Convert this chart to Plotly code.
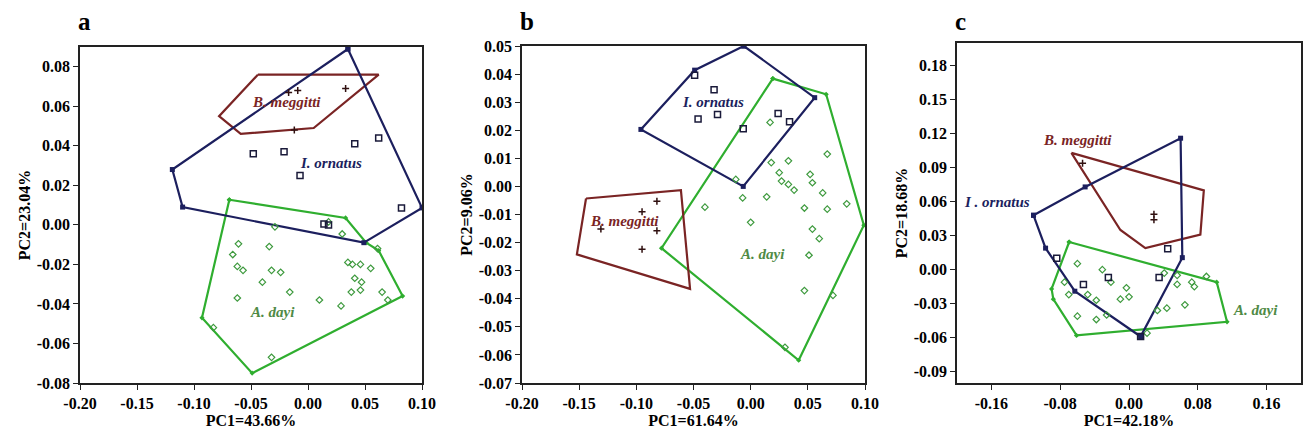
import plotly.graph_objects as go

# ---------------- data ----------------
# Panel a
a_orn_hull_x = [0.035, 0.100, 0.049, -0.110, -0.119, 0.035]
a_orn_hull_y = [0.089, 0.0086, -0.009, 0.009, 0.028, 0.089]
a_orn_x = [-0.048, -0.021, -0.007, 0.041, 0.062, 0.082, 0.014, 0.018]
a_orn_y = [0.036, 0.037, 0.025, 0.041, 0.044, 0.0086, 0.0005, 0.0]
a_meg_hull_x = [-0.044, 0.062, 0.005, -0.059, -0.078, -0.044]
a_meg_hull_y = [0.076, 0.076, 0.049, 0.046, 0.055, 0.076]
a_meg_x = [-0.009, 0.033, -0.017, -0.012]
a_meg_y = [0.068, 0.069, 0.067, 0.048]
a_day_hull_x = [-0.069, 0.033, 0.051, 0.062, 0.083, -0.049, -0.093, -0.069]
a_day_hull_y = [0.0127, 0.0035, -0.009, -0.013, -0.036, -0.075, -0.047, 0.0127]
a_day_x = [-0.061, -0.066, -0.062, -0.057, -0.034, -0.032, -0.024, -0.040, -0.016, -0.062,
           0.010, 0.029, 0.035, 0.039, 0.046, 0.055, 0.041, 0.047, 0.046, 0.038, 0.065, 0.070,
           0.030, -0.029, -0.083, -0.032, 0.061, 0.018]
a_day_y = [-0.0096, -0.015, -0.021, -0.023, -0.011, -0.023, -0.024, -0.029, -0.034, -0.037,
           -0.038, -0.041, -0.019, -0.020, -0.020, -0.022, -0.027, -0.029, -0.033, -0.034, -0.034, -0.038,
           -0.0046, -0.001, -0.052, -0.067, -0.012, 0.0015]

# Panel b
b_orn_hull_x = [-0.006, 0.056, -0.0065, -0.096, -0.049, -0.006]
b_orn_hull_y = [0.050, 0.0316, 0.0, 0.0203, 0.0414, 0.050]
b_orn_x = [-0.049, -0.032, -0.046, -0.029, -0.0065, 0.024, 0.034]
b_orn_y = [0.0396, 0.0344, 0.024, 0.0256, 0.0205, 0.026, 0.023]
b_meg_hull_x = [-0.144, -0.061, -0.053, -0.152, -0.144]
b_meg_hull_y = [-0.0043, -0.0013, -0.0365, -0.0242, -0.0043]
b_meg_x = [-0.082, -0.095, -0.082, -0.095, -0.131]
b_meg_y = [-0.0053, -0.009, -0.0158, -0.0224, -0.0152]
b_day_hull_x = [0.0194, 0.066, 0.099, 0.042, -0.078, 0.0194]
b_day_hull_y = [0.0384, 0.0328, -0.0138, -0.0619, -0.022, 0.0384]
b_day_x = [0.017, 0.018, 0.033, 0.025, 0.027, 0.033, 0.038, 0.052, 0.054, 0.063, 0.067, 0.084,
           0.067, 0.047, 0.014, -0.007, -0.013, -0.040, 0.0, 0.054, 0.060, 0.051, 0.047, 0.072, 0.030]
b_day_y = [0.0228, 0.0085, 0.0091, 0.0049, 0.0019, 0.0007, -0.0013, 0.0043, 0.0013, -0.0023, 0.0115, -0.0062,
           -0.0081, -0.0077, -0.0037, -0.0041, 0.0025, -0.0074, -0.0128, -0.0152, -0.0186, -0.0245, -0.0371, -0.0388, -0.0573]

# Panel c
c_orn_hull_x = [-0.111, -0.097, -0.063, 0.0135, 0.062, 0.060, -0.051, -0.111]
c_orn_hull_y = [0.048, 0.019, -0.019, -0.059, 0.0106, 0.116, 0.073, 0.048]
c_orn_x = [-0.084, -0.053, -0.024, 0.035, 0.045, 0.0135]
c_orn_y = [0.010, -0.013, -0.007, -0.007, 0.0185, -0.059]
c_meg_hull_x = [-0.067, 0.087, 0.083, 0.019, -0.010, -0.067]
c_meg_hull_y = [0.103, 0.070, 0.031, 0.019, 0.035, 0.103]
c_meg_x = [-0.054, 0.029, 0.029]
c_meg_y = [0.094, 0.049, 0.044]
c_day_hull_x = [-0.0696, 0.102, 0.114, -0.061, -0.088, -0.090, -0.0696]
c_day_hull_y = [0.0244, -0.011, -0.046, -0.058, -0.026, -0.017, 0.0244]
c_day_x = [-0.060, -0.075, -0.070, -0.048, -0.038, -0.060, -0.038, -0.026, -0.031, -0.021, -0.010, 0.0,
           -0.003, 0.041, 0.056, 0.056, 0.073, 0.076, 0.065, 0.044, 0.090, 0.033, 0.021]
c_day_y = [0.0053, -0.011, -0.022, -0.022, -0.027, -0.041, -0.044, -0.040, 0.0, -0.011, -0.026, -0.024,
           -0.016, -0.003, -0.005, -0.013, -0.011, -0.015, -0.031, -0.034, -0.006, -0.036, -0.056]

# Axis ticks
a_xticks = [-0.20, -0.15, -0.10, -0.05, 0.00, 0.05, 0.10]
a_yticks = [-0.08, -0.06, -0.04, -0.02, 0.00, 0.02, 0.04, 0.06, 0.08]
b_xticks = [-0.20, -0.15, -0.10, -0.05, 0.00, 0.05, 0.10]
b_yticks = [-0.07, -0.06, -0.05, -0.04, -0.03, -0.02, -0.01, 0.00, 0.01, 0.02, 0.03, 0.04, 0.05]
c_xticks = [-0.16, -0.08, 0.00, 0.08, 0.16]
c_yticks = [-0.09, -0.06, -0.03, 0.00, 0.03, 0.06, 0.09, 0.12, 0.15, 0.18]

pc1_titles = ["PC1=43.66%", "PC1=61.64%", "PC1=42.18%"]
pc2_titles = ["PC2=23.04%", "PC2=9.06%", "PC2=18.68%"]
panel_letters = ["a", "b", "c"]

# ---------------- styling ----------------
NAVY = "#1c1f5e"
RED = "#7a2424"
GREEN = "#2fae2f"
LBL_GREEN = "#4f8a45"
FONT = "Liberation Serif"

def lab(v):
    return "<b>" + ("%.2f" % v).replace("\u2212", "-") + "</b>"

fig = go.Figure()

panels = [
    dict(ox=a_orn_hull_x, oy=a_orn_hull_y, px=a_orn_x, py=a_orn_y,
         mx=a_meg_hull_x, my=a_meg_hull_y, mpx=a_meg_x, mpy=a_meg_y,
         dx=a_day_hull_x, dy=a_day_hull_y, dpx=a_day_x, dpy=a_day_y,
         xr=[-0.20, 0.10], yr=[-0.08, 0.09], xt=a_xticks, yt=a_yticks,
         dom_x=[80/1304, 422/1304], dom_y=[1-383/438, 1-47/438]),
    dict(ox=b_orn_hull_x, oy=b_orn_hull_y, px=b_orn_x, py=b_orn_y,
         mx=b_meg_hull_x, my=b_meg_hull_y, mpx=b_meg_x, mpy=b_meg_y,
         dx=b_day_hull_x, dy=b_day_hull_y, dpx=b_day_x, dpy=b_day_y,
         xr=[-0.20, 0.10], yr=[-0.07, 0.05], xt=b_xticks, yt=b_yticks,
         dom_x=[522/1304, 865/1304], dom_y=[1-383/438, 1-46/438]),
    dict(ox=c_orn_hull_x, oy=c_orn_hull_y, px=c_orn_x, py=c_orn_y,
         mx=c_meg_hull_x, my=c_meg_hull_y, mpx=c_meg_x, mpy=c_meg_y,
         dx=c_day_hull_x, dy=c_day_hull_y, dpx=c_day_x, dpy=c_day_y,
         xr=[-0.20, 0.20], yr=[-0.10, 0.20], xt=c_xticks, yt=c_yticks,
         dom_x=[957/1304, 1301/1304], dom_y=[1-383/438, 1-43/438]),
]

layout = dict(
    width=1304, height=438,
    margin=dict(l=0, r=0, t=0, b=0, autoexpand=False),
    paper_bgcolor="white", plot_bgcolor="white",
    showlegend=False,
    font=dict(family=FONT, color="black"),
    annotations=[],
)

for i, p in enumerate(panels):
    xa = "x" if i == 0 else f"x{i+1}"
    ya = "y" if i == 0 else f"y{i+1}"
    kw = dict(xaxis=xa, yaxis=ya, hoverinfo="skip")
    # hulls
    fig.add_trace(go.Scatter(x=p["dx"], y=p["dy"], mode="lines+markers",
                             line=dict(color=GREEN, width=2.2),
                             marker=dict(symbol="diamond", size=4, color=GREEN), **kw))
    fig.add_trace(go.Scatter(x=p["mx"], y=p["my"], mode="lines",
                             line=dict(color=RED, width=2.2), **kw))
    fig.add_trace(go.Scatter(x=p["ox"], y=p["oy"], mode="lines+markers",
                             line=dict(color=NAVY, width=2.2),
                             marker=dict(symbol="square", size=5, color=NAVY), **kw))
    # points
    fig.add_trace(go.Scatter(x=p["dpx"], y=p["dpy"], mode="markers",
                             marker=dict(symbol="diamond-open", size=5,
                                         color="#3e9a3e", line=dict(width=1.2)), **kw))
    fig.add_trace(go.Scatter(x=p["mpx"], y=p["mpy"], mode="markers",
                             marker=dict(symbol="cross-thin-open", size=5,
                                         color="#301010", line=dict(width=1.5, color="#301010")), **kw))
    fig.add_trace(go.Scatter(x=p["px"], y=p["py"], mode="markers",
                             marker=dict(symbol="square-open", size=6,
                                         color="#1a1a3a", line=dict(width=1.5)), **kw))

    axis_common = dict(showline=True, linecolor="#222", linewidth=1.6, mirror=True,
                       ticks="outside", ticklen=5, tickwidth=1.4, tickcolor="#222",
                       showgrid=False, zeroline=False, automargin=False,
                       tickfont=dict(family=FONT, size=16, color="black", weight="bold"))
    layout[f"xaxis{'' if i == 0 else i+1}"] = dict(
        domain=p["dom_x"], range=p["xr"], anchor=ya,
        tickvals=p["xt"], ticktext=[lab(v) for v in p["xt"]],
        title=dict(text="<b>%s</b>" % pc1_titles[i], standoff=2,
                   font=dict(family=FONT, size=16, color="black")),
        **axis_common)
    layout[f"yaxis{'' if i == 0 else i+1}"] = dict(
        domain=p["dom_y"], range=p["yr"], anchor=xa,
        tickvals=p["yt"], ticktext=[lab(v) for v in p["yt"]],
        title=dict(text="<b>%s</b>" % pc2_titles[i], standoff=2,
                   font=dict(family=FONT, size=16, color="black")),
        **axis_common)
    layout["annotations"].append(dict(
        text="<b>%s</b>" % panel_letters[i], xref="paper", yref="paper",
        x=p["dom_x"][0] - 4/1304, y=1 - 6/438, xanchor="left", yanchor="top",
        showarrow=False, font=dict(family=FONT, size=25, color="black")))

# species labels
species_labels = [
    (1, -0.019, 0.062, "B. meggitti", RED),
    (1, 0.020, 0.0314, "I. ornatus", NAVY),
    (1, -0.031, -0.044, "A. dayi", LBL_GREEN),
    (2, -0.033, 0.030, "I. ornatus", NAVY),
    (2, -0.110, -0.0122, "B. meggitti", RED),
    (2, 0.010, -0.0242, "A. dayi", LBL_GREEN),
    (3, -0.060, 0.114, "B. meggitti", RED),
    (3, -0.153, 0.060, "I . ornatus", NAVY),
    (3, 0.147, -0.036, "A. dayi", LBL_GREEN),
]
for k, x, y, t, col in species_labels:
    xr = "x" if k == 1 else f"x{k}"
    yr = "y" if k == 1 else f"y{k}"
    layout["annotations"].append(dict(
        text="<b><i>%s</i></b>" % t, xref=xr, yref=yr, x=x, y=y,
        showarrow=False, font=dict(family=FONT, size=15, color=col)))

fig.update_layout(**layout)
fig.write_html("out.html", config={"displayModeBar": False},
               post_script="document.body.style.margin='0';document.body.style.overflow='hidden';")
